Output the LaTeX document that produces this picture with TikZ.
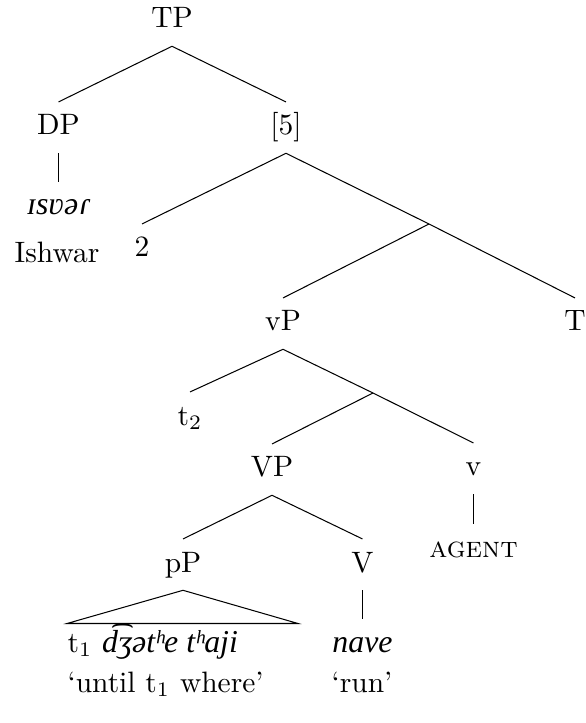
\documentclass[tikz,border=0pt]{standalone}
\usepackage{fontspec}
\newfontfamily\ipafont[ItalicFont={Liberation Serif Italic}]{Liberation Serif}
\newcommand{\ipa}[1]{{\ipafont\fontsize{10.8}{13}\selectfont\itshape #1}}
\begin{document}
\begin{tikzpicture}[x=0.339pt,y=-0.339pt,
  lbl/.style={anchor=base,inner xsep=0pt,inner ysep=4pt,text height=7pt,text depth=2pt},
  txt/.style={anchor=base,inner sep=0pt},
  branch/.style={line width=0.35pt}]
\useasboundingbox (0,0) rectangle (585,723);
% labels
\node[lbl] (TP) at (172,28) {TP};
\node[lbl] (DP) at (58.5,135) {DP};
\node[lbl] (isvar) at (58.5,215) {\ipa{ɪsʋəɾ}};
\node[txt] (ishwar) at (57,263) {Ishwar};
\node[lbl] (five) at (286,135) {[5]};
\node[lbl] (two) at (142,257) {2};
\coordinate (X) at (429,224);
\node[lbl] (vP) at (283,331) {vP};
\node[lbl] (T) at (575,331) {T};
\coordinate (Y) at (373,393);
\node[lbl] (t2) at (190,425) {t$_2$};
\node[lbl] (VP) at (272,477) {VP};
\node[lbl] (v) at (473.5,476) {v};
\node[lbl] (agent) at (473.5,557) {\textsc{agent}};
\node[lbl] (pP) at (183,572) {pP};
\node[lbl] (V) at (362.5,572) {V};
\coordinate (tl) at (67,623.5);
\coordinate (tr) at (298,623.5);
\node[txt,anchor=base west] (pPipa) at (67,652) {t$_1$ \ipa{d͡ʒətʰe tʰaji}};
\node[txt,anchor=base west] (pPgloss) at (67,692) {`until t$_1$ where'};
\node[lbl] (nave) at (362.5,652) {\ipa{nave}};
\node[txt] (run) at (362,692) {`run'};
% branches
\draw[branch] (TP.south) -- (DP.north);
\draw[branch] (TP.south) -- (five.north);
\draw[branch] (DP.south) -- (isvar.north);
\draw[branch] (five.south) -- (two.north);
\draw[branch] (five.south) -- (X);
\draw[branch] (X) -- (vP.north);
\draw[branch] (X) -- (T.north);
\draw[branch] (vP.south) -- (t2.north);
\draw[branch] (vP.south) -- (Y);
\draw[branch] (Y) -- (VP.north);
\draw[branch] (Y) -- (v.north);
\draw[branch] (v.south) -- (agent.north);
\draw[branch] (VP.south) -- (pP.north);
\draw[branch] (VP.south) -- (V.north);
\draw[branch] (pP.south) -- (tl) -- (tr) -- cycle;
\draw[branch] (V.south) -- (nave.north);
\end{tikzpicture}
\end{document}
